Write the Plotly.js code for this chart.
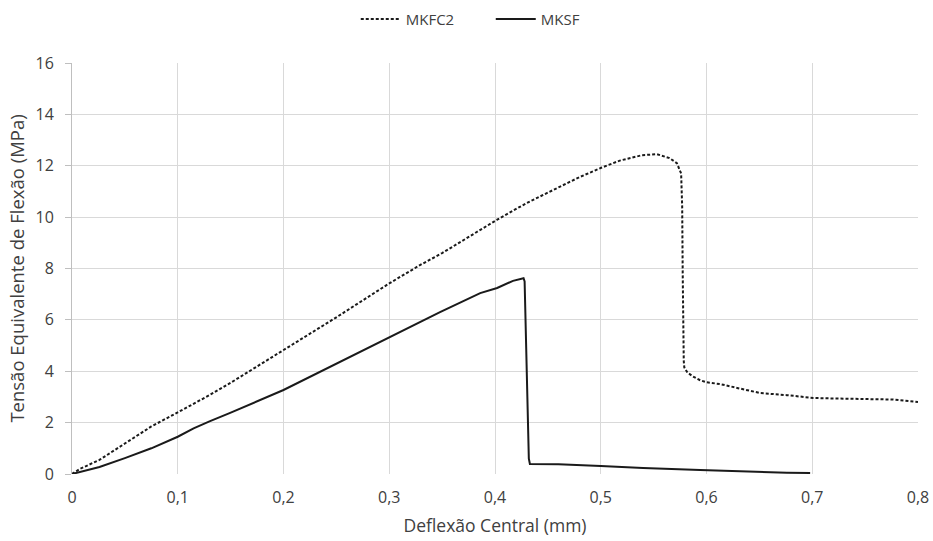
<!DOCTYPE html>
<html>
<head>
<meta charset="utf-8">
<script src="https://cdn.plot.ly/plotly-3.0.1.min.js"></script>
<style>html,body{margin:0;padding:0;background:#fff}#chart{width:933px;height:541px}</style>
</head>
<body>
<div id="chart"></div>
<script>
// MKFC2 (dotted)
const mkfc2X = [0, 0.0076, 0.026, 0.05, 0.075, 0.1, 0.13, 0.15, 0.2, 0.25, 0.3, 0.329, 0.35, 0.386, 0.402, 0.43, 0.461, 0.48, 0.501, 0.518, 0.539, 0.553, 0.565, 0.572, 0.576, 0.577, 0.5775, 0.578, 0.5785, 0.579, 0.582, 0.587, 0.594, 0.6, 0.613, 0.629, 0.651, 0.676, 0.701, 0.72, 0.745, 0.776, 0.8];
const mkfc2Y = [0, 0.2, 0.55, 1.2, 1.85, 2.4, 3.07, 3.55, 4.82, 6.1, 7.42, 8.13, 8.6, 9.5, 9.9, 10.55, 11.17, 11.56, 11.93, 12.2, 12.41, 12.45, 12.3, 12.1, 11.7, 10.4, 7.8, 5.2, 4.4, 4.15, 3.95, 3.8, 3.65, 3.57, 3.5, 3.35, 3.15, 3.07, 2.96, 2.94, 2.92, 2.9, 2.8];
// MKSF (solid)
const mksfX = [0, 0.01, 0.026, 0.05, 0.075, 0.1, 0.115, 0.13, 0.149, 0.2, 0.25, 0.3, 0.31, 0.329, 0.348, 0.386, 0.402, 0.417, 0.427, 0.428, 0.43, 0.432, 0.433, 0.46, 0.5, 0.54, 0.594, 0.632, 0.676, 0.698];
const mksfY = [0, 0.1, 0.27, 0.62, 1.0, 1.45, 1.78, 2.05, 2.37, 3.27, 4.3, 5.32, 5.53, 5.93, 6.3, 7.04, 7.24, 7.52, 7.62, 7.5, 4.0, 0.6, 0.39, 0.38, 0.31, 0.23, 0.16, 0.1, 0.05, 0.04];

const xTickVals = [0, 0.1, 0.2, 0.3, 0.4, 0.5, 0.6, 0.7, 0.8];
const xTickText = ["0", "0,1", "0,2", "0,3", "0,4", "0,5", "0,6", "0,7", "0,8"];
const yTickVals = [0, 2, 4, 6, 8, 10, 12, 14, 16];

const FONT = "Open Sans, Noto Sans, sans-serif";
const grid = "#d9d9d9";

const traces = [
  {x: mkfc2X, y: mkfc2Y, name: "MKFC2", type: "scatter", mode: "lines",
   line: {color: "#1a1a1a", width: 2, dash: "3px,2px"}},
  {x: mksfX, y: mksfY, name: "MKSF", type: "scatter", mode: "lines",
   line: {color: "#1a1a1a", width: 2}}
];

const layout = {
  width: 933, height: 541,
  margin: {l: 72, r: 15, t: 63, b: 67},
  paper_bgcolor: "#fff", plot_bgcolor: "#fff",
  font: {family: FONT, color: "#404040", size: 15},
  showlegend: true,
  legend: {orientation: "h", xref: "container", yref: "container", x: 0.526, xanchor: "center", y: 0.995, yanchor: "top",
           font: {family: FONT, size: 15, color: "#404040"}, itemwidth: 40, entrywidth: 80, entrywidthmode: "pixels"},
  xaxis: {
    range: [0, 0.8], tickvals: xTickVals, ticktext: xTickText,
    showgrid: true, gridcolor: grid, gridwidth: 1,
    zeroline: false, showline: false,
    ticks: "", ticklabelstandoff: 12, tickfont: {family: FONT, size: 16, color: "#404040"},
    title: {text: "Deflexão Central (mm)", font: {family: FONT, size: 17.5, color: "#404040"}, standoff: 12}
  },
  yaxis: {
    range: [0, 16], tickvals: yTickVals,
    showgrid: true, gridcolor: grid, gridwidth: 1,
    zeroline: false, showline: true, linecolor: "#bfbfbf", linewidth: 1,
    ticks: "outside", ticklen: 6, tickcolor: "#bfbfbf", ticklabelstandoff: 8,
    tickfont: {family: FONT, size: 16, color: "#404040"},
    title: {text: "Tensão Equivalente de Flexão (MPa)", font: {family: FONT, size: 18.5, color: "#404040"}, standoff: 6}
  }
};

Plotly.newPlot("chart", traces, layout, {displayModeBar: false, staticPlot: true});
</script>
</body>
</html>
